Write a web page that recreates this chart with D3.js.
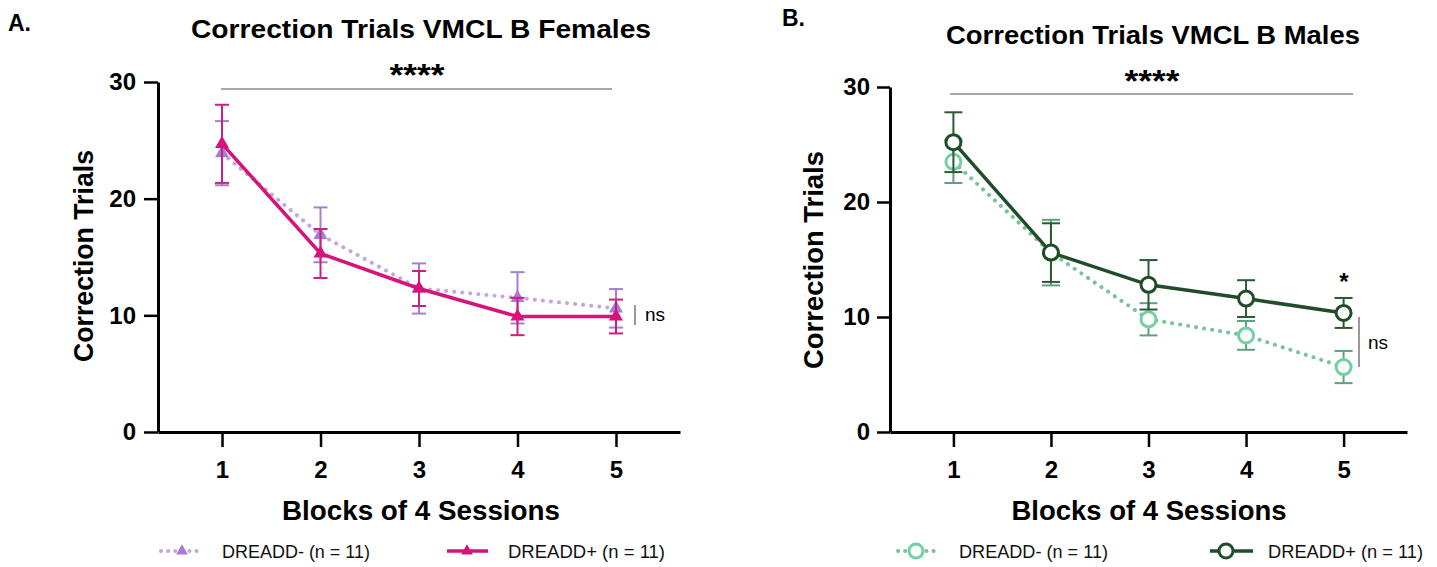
<!DOCTYPE html>
<head>
  <meta charset="utf-8">
  <script src="https://d3js.org/d3.v7.min.js"></script>
  <style>
    body { margin: 0; background: #fff; }
    text { font-family: "Liberation Sans", Arial, Helvetica, sans-serif; }
  </style>
</head>
<body>
  <script>
    var width = 1437, height = 567;

    // blocks of 4 sessions
    var blocks = [1, 2, 3, 4, 5];
    var yTicks = [0, 10, 20, 30];

    // females (panel A): mean and SEM
    var femNegMean = [23.9, 16.9, 12.3, 11.5, 10.6];
    var femNegSem = [2.75, 2.35, 2.15, 2.2, 1.65];
    var femPosMean = [24.7, 15.3, 12.3, 9.9, 9.9];
    var femPosSem = [3.35, 2.1, 1.5, 1.6, 1.45];

    // males (panel B)
    var malNegMean = [23.5, 15.6, 9.8, 8.4, 5.65];
    var malNegSem = [1.85, 2.85, 1.4, 1.25, 1.4];
    var malPosMean = [25.2, 15.6, 12.8, 11.6, 10.35];
    var malPosSem = [2.6, 2.55, 2.15, 1.6, 1.3];

    var legendLabels = ["DREADD- (n = 11)", "DREADD+ (n = 11)"];

    var svg = d3.select('body').append('svg')
      .attr('width', width)
      .attr('height', height);

    function series(mean, sem) {
      return blocks.map((b, i) => ({ x: b, y: mean[i], e: sem[i] }));
    }

    var panels = [
      {
        letter: "A.", letterX: 8, letterY: 31,
        title: "Correction Trials VMCL B Females", titleX: 421, titleY: 38, titleW: 460,
        x0: 158, x1: 680, y0: 432, y1: 82, tick: 14, yPad: 8,
        ylabX: 93, ylabY: 256, ylabW: 212,
        xlabX: 421, xlabW: 278,
        sigY: 89, sigX: [221, 612], starsX: 417, starsY: 86,
        ns: { x: 635, y: [305, 325], tx: 645, ty: 321 },
        neg: series(femNegMean, femNegSem), pos: series(femPosMean, femPosSem),
        negColor: "#a87ad6", negLine: "#c5a6da", negErr: "#a77fcf",
        posColor: "#d5137a", posErr: "#cf1f7c",
        marker: "tri", capW: 7,
        legend: { y: 551, neg: [161, 201, 182, 222, 148], pos: [447, 488, 467, 508, 157] }
      },
      {
        letter: "B.", letterX: 782, letterY: 26,
        title: "Correction Trials VMCL B Males", titleX: 1153, titleY: 44, titleW: 414,
        x0: 890, x1: 1407, y0: 432, y1: 87, tick: 13, yPad: 7,
        ylabX: 823, ylabY: 260, ylabW: 218,
        xlabX: 1149, xlabW: 275,
        sigY: 94, sigX: [950, 1353], starsX: 1152, starsY: 92,
        ns: { x: 1359, y: [317, 367], tx: 1368, ty: 349 },
        star: { x: 1344, y: 290 },
        neg: series(malNegMean, malNegSem), pos: series(malPosMean, malPosSem),
        negColor: "#72d0a2", negLine: "#78c29c", negErr: "#5f9f83",
        posColor: "#1f4d27", posErr: "#2c5a33",
        marker: "circ", capW: 9,
        legend: { y: 551, neg: [898, 937, 916, 959, 149], pos: [1210, 1253, 1226, 1268, 155] }
      }
    ];

    panels.forEach(function(p) {
      var g = svg.append('g');

      var x = d3.scaleLinear().domain([0.35, 5.65]).range([p.x0, p.x1]);
      var y = d3.scaleLinear().domain([0, 30]).range([p.y0, p.y1]);

      // panel letter and title
      g.append('text').attr('x', p.letterX).attr('y', p.letterY)
        .style('font-size', '23px').style('font-weight', 'bold').text(p.letter);
      g.append('text').attr('x', p.titleX).attr('y', p.titleY)
        .attr('text-anchor', 'middle')
        .attr('textLength', p.titleW).attr('lengthAdjust', 'spacingAndGlyphs')
        .style('font-size', '25px').style('font-weight', 'bold').text(p.title);

      // axes
      var yAxis = g.append('g')
        .attr('transform', 'translate(' + p.x0 + ',0)')
        .call(d3.axisLeft(y).tickValues(yTicks).tickSize(p.tick).tickSizeOuter(0).tickPadding(p.yPad));
      var xAxis = g.append('g')
        .attr('transform', 'translate(0,' + p.y0 + ')')
        .call(d3.axisBottom(x).tickValues(blocks).tickFormat(d3.format('d'))
          .tickSize(15).tickSizeOuter(0).tickPadding(14));

      [yAxis, xAxis].forEach(function(a) {
        a.select('.domain').attr('stroke', '#000').attr('stroke-width', 3);
        a.selectAll('.tick line').attr('stroke', '#000').attr('stroke-width', 2.5);
        a.selectAll('.tick text').attr('fill', '#000')
          .style('font-family', '"Liberation Sans", Arial, sans-serif')
          .style('font-size', '24px').style('font-weight', 'bold');
      });

      // axis titles
      g.append('text')
        .attr('transform', 'translate(' + p.ylabX + ',' + p.ylabY + ') rotate(-90)')
        .attr('text-anchor', 'middle')
        .attr('textLength', p.ylabW).attr('lengthAdjust', 'spacingAndGlyphs')
        .style('font-size', '27px').style('font-weight', 'bold').text("Correction Trials");
      g.append('text')
        .attr('x', p.xlabX).attr('y', 520)
        .attr('text-anchor', 'middle')
        .attr('textLength', p.xlabW).attr('lengthAdjust', 'spacingAndGlyphs')
        .style('font-size', '27px').style('font-weight', 'bold').text("Blocks of 4 Sessions");

      // significance annotations
      g.append('line')
        .attr('x1', p.sigX[0]).attr('x2', p.sigX[1])
        .attr('y1', p.sigY).attr('y2', p.sigY)
        .attr('stroke', '#8a8a8a').attr('stroke-width', 1.5);
      g.append('text').attr('x', p.starsX).attr('y', p.starsY)
        .attr('text-anchor', 'middle')
        .attr('textLength', 55).attr('lengthAdjust', 'spacingAndGlyphs')
        .style('font-size', '31px').style('font-weight', 'bold').text("****");
      g.append('line')
        .attr('x1', p.ns.x).attr('x2', p.ns.x)
        .attr('y1', p.ns.y[0]).attr('y2', p.ns.y[1])
        .attr('stroke', '#777').attr('stroke-width', 1.5);
      g.append('text').attr('x', p.ns.tx).attr('y', p.ns.ty)
        .style('font-size', '19px').text("ns");
      if (p.star) {
        g.append('text').attr('x', p.star.x).attr('y', p.star.y)
          .attr('text-anchor', 'middle')
          .style('font-size', '24px').style('font-weight', 'bold').text("*");
      }

      var line = d3.line().x(d => x(d.x)).y(d => y(d.y));
      var tri = d3.symbol().type(d3.symbolTriangle).size(85);
      var triSmall = d3.symbol().type(d3.symbolTriangle).size(60);

      function drawSeries(data, lineColor, errColor, markColor, dotted) {
        var s = g.append('g');
        // error bars
        var eb = s.selectAll('.eb').data(data).enter().append('g')
          .attr('stroke', errColor).attr('stroke-width', 2).attr('fill', 'none');
        eb.append('line')
          .attr('x1', d => x(d.x)).attr('x2', d => x(d.x))
          .attr('y1', d => y(d.y - d.e)).attr('y2', d => y(d.y + d.e));
        eb.append('line')
          .attr('x1', d => x(d.x) - p.capW).attr('x2', d => x(d.x) + p.capW)
          .attr('y1', d => y(d.y + d.e)).attr('y2', d => y(d.y + d.e));
        eb.append('line')
          .attr('x1', d => x(d.x) - p.capW).attr('x2', d => x(d.x) + p.capW)
          .attr('y1', d => y(d.y - d.e)).attr('y2', d => y(d.y - d.e));
        // line
        var path = s.append('path').datum(data)
          .attr('d', line).attr('fill', 'none').attr('stroke', lineColor);
        if (dotted) {
          path.attr('stroke-width', 4).attr('stroke-dasharray', '0.1,8').attr('stroke-linecap', 'round');
        } else {
          path.attr('stroke-width', 3.5);
        }
        // markers
        if (p.marker === "tri") {
          s.selectAll('.m').data(data).enter().append('path')
            .attr('d', tri)
            .attr('transform', d => 'translate(' + x(d.x) + ',' + y(d.y) + ')')
            .attr('fill', markColor);
        } else {
          s.selectAll('.m').data(data).enter().append('circle')
            .attr('cx', d => x(d.x)).attr('cy', d => y(d.y)).attr('r', 7.5)
            .attr('fill', '#fff').attr('stroke', markColor).attr('stroke-width', 3);
        }
      }

      drawSeries(p.neg, p.negLine, p.negErr, p.negColor, true);
      drawSeries(p.pos, p.posColor, p.posErr, p.posColor, false);

      // legend
      var L = p.legend;
      function legendItem(spec, color, lineColor, dotted, label) {
        var lg = g.append('g');
        var ln = lg.append('line')
          .attr('x1', spec[0]).attr('x2', spec[1])
          .attr('y1', L.y).attr('y2', L.y)
          .attr('stroke', lineColor);
        if (dotted) {
          ln.attr('stroke-width', 4).attr('stroke-dasharray', '0.1,7').attr('stroke-linecap', 'round');
        } else {
          ln.attr('stroke-width', 3.5);
        }
        if (p.marker === "tri") {
          lg.append('path').attr('d', triSmall)
            .attr('transform', 'translate(' + spec[2] + ',' + L.y + ')')
            .attr('fill', color);
        } else {
          lg.append('circle').attr('cx', spec[2]).attr('cy', L.y).attr('r', 7)
            .attr('fill', '#fff').attr('stroke', color).attr('stroke-width', 3);
        }
        lg.append('text').attr('x', spec[3]).attr('y', L.y + 7)
          .attr('textLength', spec[4]).attr('lengthAdjust', 'spacingAndGlyphs')
          .style('font-size', '19px').attr('fill', '#111').text(label);
      }
      legendItem(L.neg, p.negColor, p.negLine, true, legendLabels[0]);
      legendItem(L.pos, p.posColor, p.posColor, false, legendLabels[1]);
    });
  </script>
</body>
